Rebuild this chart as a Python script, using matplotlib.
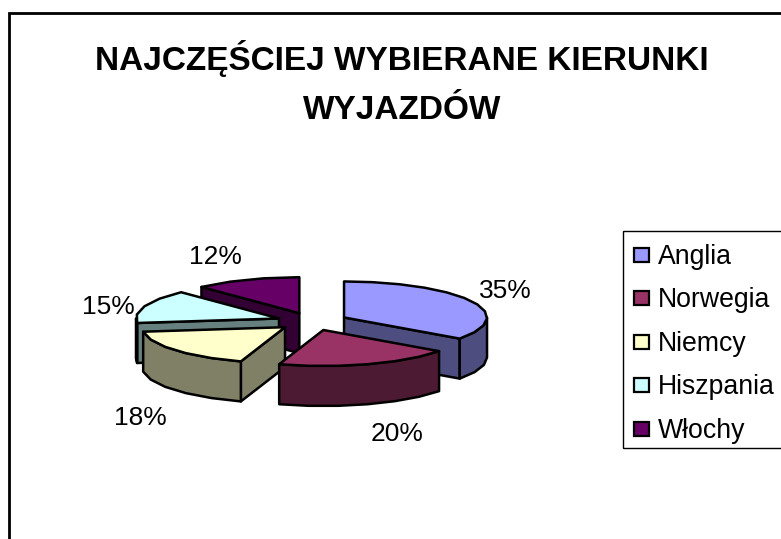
import numpy as np
import matplotlib
matplotlib.use("Agg")
import matplotlib.pyplot as plt
from matplotlib.patches import Polygon, Rectangle

plt.rcParams["font.family"] = ["Liberation Sans", "DejaVu Sans"]

categories = ["Anglia", "Norwegia", "Niemcy", "Hiszpania", "Włochy"]
values = [35, 20, 18, 15, 12]
top_colors = ["#9999FF", "#993366", "#FFFFCC", "#CCFFFF", "#660066"]
side_colors = ["#4D4D80", "#4D1A33", "#808066", "#668080", "#330033"]
title = "NAJCZĘŚCIEJ WYBIERANE KIERUNKI\nWYJAZDÓW"

# pie geometry in pixels
cx, cy = 312.4, 321.5
rx, ry = 143, 36
depth = 40
explode = 35.5
lw = 1.8

# label centres, same order as categories
label_pos = [(505, 291), (397, 434), (140, 418), (108, 307), (215, 257)]
draw_order = [4, 0, 3, 2, 1]

fig = plt.figure(figsize=(7.81, 5.39), dpi=100)
ax = fig.add_axes([0, 0, 1, 1])
ax.set_xlim(0, 781)
ax.set_ylim(539, 0)
ax.axis("off")

# chart frame, cut off by the image on the right and bottom
ax.plot([9, 9, 781], [539, 13, 13], color="black", lw=2, solid_joinstyle="miter")

ax.text(402, 83, title, ha="center", va="center", fontsize=24,
        fontweight="bold", linespacing=1.72)


def point(ox, oy, deg, dz=0):
    a = np.radians(deg)
    return ox + rx * np.sin(a), oy - ry * np.cos(a) + dz


def arc(ox, oy, a0, a1, dz=0):
    # the original curve is a coarse polyline
    n = max(2, int(abs(a1 - a0) / 11) + 1)
    return [point(ox, oy, d, dz) for d in np.linspace(a0, a1, n)]


starts = np.cumsum([0] + values[:-1]) * 3.6
for i in draw_order:
    a0 = starts[i]
    a1 = a0 + values[i] * 3.6
    mid = np.radians((a0 + a1) / 2)
    ox = cx + explode * np.sin(mid)
    oy = cy - explode * ry / rx * np.cos(mid)
    side = dict(facecolor=side_colors[i], edgecolor="black", lw=lw, joinstyle="round")

    # cut faces, only those turned towards the viewer
    cuts = []
    if 180 < a0 < 360:
        cuts.append(a0)
    if 0 < a1 < 180:
        cuts.append(a1)
    for a in cuts:
        p = point(ox, oy, a)
        q = point(ox, oy, a, depth)
        ax.add_patch(Polygon([(ox, oy), p, q, (ox, oy + depth)], **side))

    # outer rim, only the front half shows
    r0, r1 = max(a0, 90), min(a1, 270)
    if r1 > r0:
        ax.add_patch(Polygon(arc(ox, oy, r0, r1) + arc(ox, oy, r1, r0, depth), **side))

    ax.add_patch(Polygon([(ox, oy)] + arc(ox, oy, a0, a1), facecolor=top_colors[i],
                         edgecolor="black", lw=lw, joinstyle="round"))

    ax.text(label_pos[i][0], label_pos[i][1], f"{values[i]}%", ha="center",
            va="center", fontsize=19)

# legend
ax.add_patch(Rectangle((623, 231), 160, 217, facecolor="white", edgecolor="black", lw=1))
for i, name in enumerate(categories):
    y = 255 + i * 43.4
    ax.add_patch(Rectangle((634, y - 7), 15, 14, facecolor=top_colors[i],
                           edgecolor="black", lw=1.6))
    ax.text(658, y + 2, name, ha="left", va="center", fontsize=19.2)

fig.savefig("out.png", dpi=100)
